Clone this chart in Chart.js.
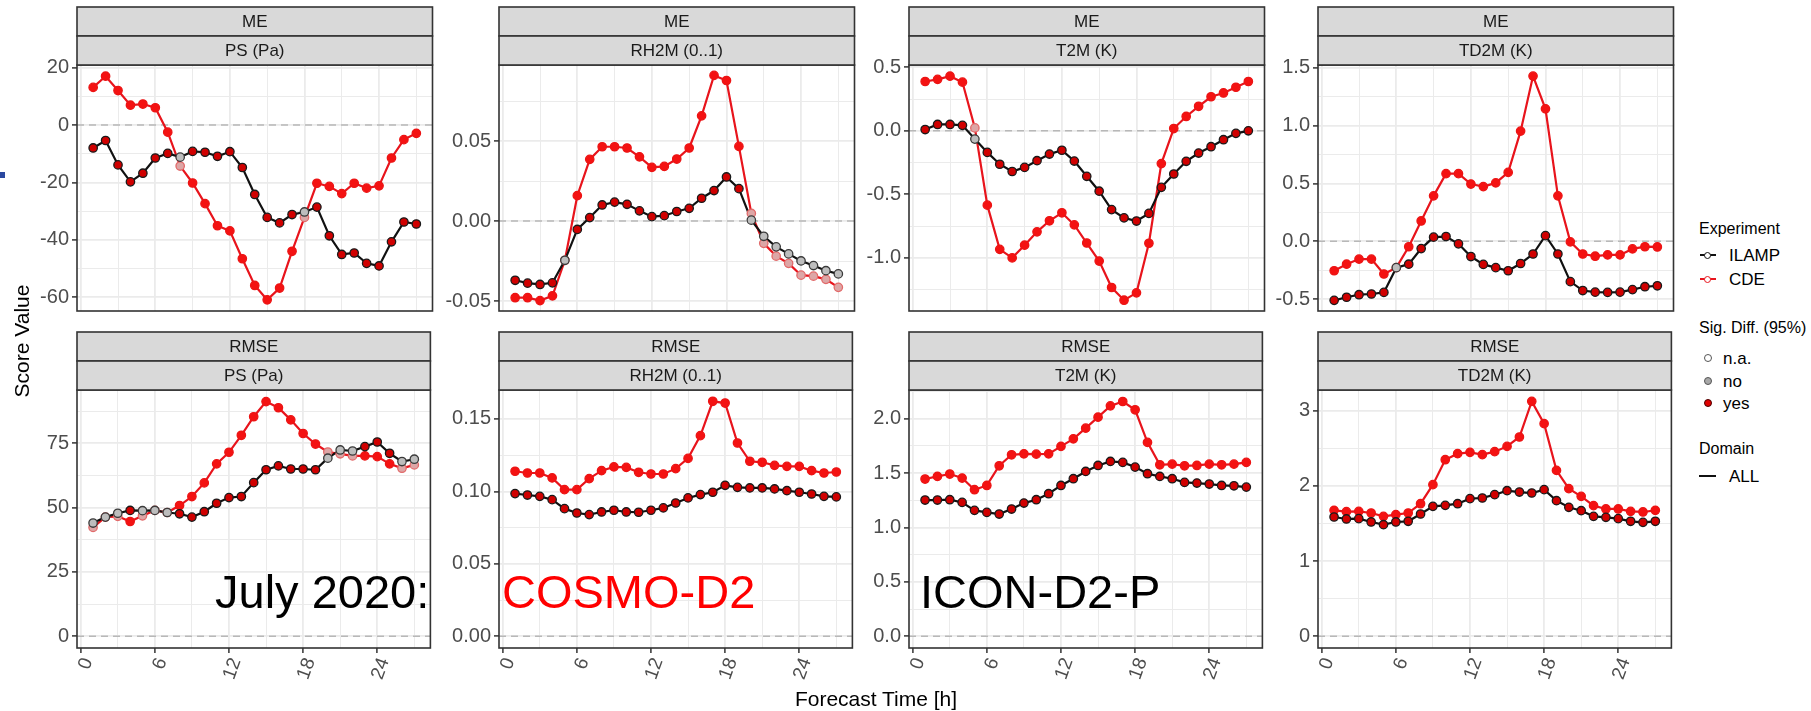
<!DOCTYPE html>
<html><head><meta charset="utf-8">
<script src="https://cdn.jsdelivr.net/npm/chart.js@4.4.0/dist/chart.umd.min.js"></script>
<style>
html,body{margin:0;padding:0;background:#fff;}
body{width:1811px;height:711px;overflow:hidden;position:relative;font-family:"Liberation Sans",Arial,Helvetica,sans-serif;}
canvas{position:absolute;}
.t{position:absolute;white-space:nowrap;line-height:1;}
.lg{position:absolute;white-space:nowrap;line-height:1;transform:translateY(-50%);color:#000;}
.ln{position:absolute;height:2px;}
.dot{position:absolute;border-radius:50%;box-sizing:border-box;}
</style></head><body>
<script>
// ---------- data ----------
const hours = [1,2,3,4,5,6,7,8,9,10,11,12,13,14,15,16,17,18,19,20,21,22,23,24,25,26,27];
const xMajorTicks = [0,6,12,18,24];

const psME_ILAMP = [-8.0,-5.4,-13.9,-19.8,-16.8,-11.5,-9.9,-11.2,-9.2,-9.5,-10.9,-9.3,-14.8,-24.2,-32.2,-34.1,-31.2,-30.3,-28.6,-38.6,-45.1,-44.6,-48.2,-49.1,-40.7,-33.8,-34.5];
const psME_CDE   = [13.1,17.0,12.0,6.9,7.3,6.0,-2.5,-14.3,-20.2,-27.4,-35.1,-36.9,-46.6,-55.9,-60.9,-56.8,-44.0,-32.2,-20.3,-21.4,-23.9,-20.3,-22.0,-21.2,-11.5,-5.1,-2.9];
const psME_sigNo = [8,18];
const psME_ticks = [-60,-40,-20,0,20];

const rhME_ILAMP = [-0.0370,-0.0388,-0.0396,-0.0386,-0.0245,-0.0052,0.0022,0.0101,0.0119,0.0105,0.0064,0.0028,0.0034,0.0060,0.0080,0.0143,0.0191,0.0276,0.0203,0.0006,-0.0095,-0.0161,-0.0205,-0.0249,-0.0278,-0.0310,-0.0330];
const rhME_CDE   = [-0.0479,-0.0479,-0.0497,-0.0467,-0.0245,0.0159,0.0386,0.0465,0.0465,0.0457,0.0402,0.0336,0.0342,0.0388,0.0457,0.0658,0.0911,0.0879,0.0467,0.0048,-0.0139,-0.0219,-0.0264,-0.0338,-0.0344,-0.0364,-0.0414];
const rhME_sigNo = [5,20,21,22,23,24,25,26,27];
const rhME_ticks = [-0.05,0.00,0.05];

const t2ME_ILAMP = [0.01,0.05,0.05,0.043,-0.065,-0.17,-0.263,-0.32,-0.288,-0.235,-0.183,-0.153,-0.238,-0.358,-0.475,-0.62,-0.685,-0.71,-0.65,-0.445,-0.34,-0.24,-0.175,-0.125,-0.07,-0.02,0.0];
const t2ME_CDE   = [0.388,0.405,0.43,0.383,0.023,-0.585,-0.933,-1.0,-0.9,-0.795,-0.708,-0.645,-0.74,-0.883,-1.025,-1.233,-1.333,-1.275,-0.885,-0.258,0.018,0.113,0.193,0.268,0.298,0.343,0.388];
const t2ME_sigNo = [5];
const t2ME_ticks = [-1.0,-0.5,0.0,0.5];

const td2ME_ILAMP = [-0.511,-0.484,-0.462,-0.456,-0.442,-0.228,-0.198,-0.063,0.036,0.041,-0.022,-0.132,-0.2,-0.228,-0.255,-0.192,-0.11,0.049,-0.11,-0.349,-0.426,-0.44,-0.442,-0.44,-0.418,-0.393,-0.385];
const td2ME_CDE   = [-0.255,-0.198,-0.154,-0.154,-0.283,-0.228,-0.047,0.176,0.393,0.585,0.585,0.495,0.473,0.505,0.596,0.953,1.429,1.146,0.393,-0.005,-0.11,-0.129,-0.118,-0.118,-0.066,-0.047,-0.049];
const td2ME_sigNo = [6];
const td2ME_ticks = [-0.5,0.0,0.5,1.0,1.5];

const psRM_ILAMP = [44.0,46.3,47.8,48.9,48.8,48.9,48.1,47.6,46.3,48.4,51.7,53.9,54.3,59.7,64.7,66.2,65.0,65.0,64.7,69.2,72.4,72.0,73.7,75.5,71.1,67.9,68.8];
const psRM_CDE   = [42.3,46.3,46.6,44.6,46.8,48.9,48.1,50.8,54.3,59.6,67.0,71.5,78.1,85.3,91.2,88.8,84.1,78.8,74.7,71.6,70.9,70.1,70.1,69.8,67.0,65.3,66.6];
const psRM_sigNo = [1,2,3,5,6,7,20,21,22,26,27];
const psRM_ticks = [0,25,50,75];

const rhRM_ILAMP = [0.0985,0.0975,0.0966,0.0943,0.0881,0.0851,0.0840,0.0858,0.0870,0.0858,0.0856,0.0870,0.0886,0.0920,0.0955,0.0978,0.0994,0.1042,0.1028,0.1024,0.1024,0.1017,0.1005,0.0994,0.0982,0.0966,0.0962];
const rhRM_CDE   = [0.1139,0.1127,0.1127,0.1093,0.1012,0.1012,0.1088,0.1143,0.1169,0.1166,0.1132,0.1120,0.1120,0.1157,0.1228,0.1385,0.1622,0.1610,0.1334,0.1208,0.1201,0.1180,0.1173,0.1173,0.1143,0.1127,0.1134];
const rhRM_sigNo = [];
const rhRM_ticks = [0.00,0.05,0.10,0.15];

const t2RM_ILAMP = [1.253,1.253,1.256,1.231,1.158,1.139,1.124,1.170,1.225,1.256,1.311,1.387,1.449,1.516,1.571,1.608,1.599,1.556,1.495,1.470,1.449,1.415,1.409,1.400,1.387,1.384,1.372];
const t2RM_CDE   = [1.446,1.470,1.492,1.455,1.348,1.387,1.568,1.669,1.678,1.675,1.678,1.746,1.816,1.914,2.015,2.119,2.159,2.083,1.783,1.577,1.583,1.568,1.571,1.583,1.577,1.583,1.599];
const t2RM_sigNo = [];
const t2RM_ticks = [0.0,0.5,1.0,1.5,2.0];

const td2RM_ILAMP = [1.586,1.560,1.564,1.520,1.484,1.520,1.529,1.626,1.728,1.741,1.763,1.830,1.839,1.883,1.936,1.918,1.905,1.950,1.803,1.715,1.670,1.595,1.582,1.564,1.529,1.515,1.529];
const td2RM_CDE   = [1.675,1.657,1.661,1.639,1.595,1.617,1.639,1.763,2.016,2.348,2.428,2.446,2.415,2.455,2.525,2.650,3.124,2.827,2.206,1.963,1.861,1.737,1.693,1.693,1.661,1.653,1.675];
const td2RM_sigNo = [];
const td2RM_ticks = [0,1,2,3];

// ---------- panels ----------
const FONT = '"Liberation Sans", Arial, Helvetica, sans-serif';
const panels = [
  {row:0,col:0,stat:'ME',  v:'PS (Pa)',     il:psME_ILAMP, cd:psME_CDE, sig:psME_sigNo, yt:psME_ticks, lim:[-64.8,20.9],   dec:0},
  {row:0,col:1,stat:'ME',  v:'RH2M (0..1)', il:rhME_ILAMP, cd:rhME_CDE, sig:rhME_sigNo, yt:rhME_ticks, lim:[-0.0562,0.0976],dec:2},
  {row:0,col:2,stat:'ME',  v:'T2M (K)',     il:t2ME_ILAMP, cd:t2ME_CDE, sig:t2ME_sigNo, yt:t2ME_ticks, lim:[-1.418,0.518],  dec:1},
  {row:0,col:3,stat:'ME',  v:'TD2M (K)',    il:td2ME_ILAMP,cd:td2ME_CDE,sig:td2ME_sigNo,yt:td2ME_ticks,lim:[-0.603,1.525],  dec:1},
  {row:1,col:0,stat:'RMSE',v:'PS (Pa)',     il:psRM_ILAMP, cd:psRM_CDE, sig:psRM_sigNo, yt:psRM_ticks, lim:[-4.56,95.7],    dec:0},
  {row:1,col:1,stat:'RMSE',v:'RH2M (0..1)', il:rhRM_ILAMP, cd:rhRM_CDE, sig:rhRM_sigNo, yt:rhRM_ticks, lim:[-0.0081,0.1700],dec:2},
  {row:1,col:2,stat:'RMSE',v:'T2M (K)',     il:t2RM_ILAMP, cd:t2RM_CDE, sig:t2RM_sigNo, yt:t2RM_ticks, lim:[-0.108,2.265],  dec:1},
  {row:1,col:3,stat:'RMSE',v:'TD2M (K)',    il:td2RM_ILAMP,cd:td2RM_CDE,sig:td2RM_sigNo,yt:td2RM_ticks,lim:[-0.156,3.275],  dec:0}
];

const colL = [77,499,909,1318], PW = 357;
const plotTop = [65,390], plotBot = [323,648];
const AXW = 70, PADT = 62, PADR = 4, XH = 45;
const XMIN = -0.3, XMAX = 28.3;

const decoPlugin = {
  id:'deco',
  beforeDatasetsDraw(chart){
    const {ctx, chartArea:a, scales:{y}} = chart;
    const py = y.getPixelForValue(0);
    ctx.save();
    ctx.strokeStyle='#b8b8b8'; ctx.lineWidth=1.5; ctx.setLineDash([7,5]);
    ctx.beginPath(); ctx.moveTo(a.left,py); ctx.lineTo(a.right,py); ctx.stroke();
    ctx.restore();
  },
  afterDraw(chart, args, opts){
    const {ctx, chartArea:a} = chart;
    ctx.save();
    ctx.strokeStyle='#333'; ctx.lineWidth=1.6;
    ctx.strokeRect(a.left, a.top, a.right-a.left, a.bottom-a.top);
    const labs=[opts.stat, opts.v];
    for(let i=0;i<2;i++){
      const t=a.top-58+i*29;
      ctx.fillStyle='#d9d9d9'; ctx.fillRect(a.left,t,a.right-a.left,29);
      ctx.strokeRect(a.left,t,a.right-a.left,29);
      ctx.fillStyle='#1a1a1a'; ctx.font='17px '+FONT;
      ctx.textAlign='center'; ctx.textBaseline='middle';
      ctx.fillText(labs[i],(a.left+a.right)/2,t+15);
    }
    ctx.restore();
  }
};

function withMinors(majors, lo, hi){
  const step = majors[1]-majors[0];
  const out=[];
  for(let k=-2;k<=majors.length*2+2;k++){
    const v = majors[0] + (k*step)/2;
    if(v>lo && v<hi) out.push({value:+v.toFixed(6), mj: (k%2===0)});
  }
  return out;
}

const ptColors = {
  il:{yes:['#d00000','#1a1a1a'], no:['#bdbdbd','#3a3a3a']},
  cd:{yes:['#f41212','#ec1414'], no:['#dda6a6','#e26a6a']}
};

panels.forEach((p)=>{
  const cv = document.createElement('canvas');
  const top = plotTop[p.row]-PADT;
  const w = AXW+PW+PADR;
  const h = plotBot[p.row]-top + (p.row===1?XH:3);
  cv.width=w; cv.height=h;
  cv.style.left=(colL[p.col]-AXW)+'px'; cv.style.top=top+'px';
  cv.style.width=w+'px'; cv.style.height=h+'px';
  document.body.appendChild(cv);

  const mk = (vals)=>hours.map((hh,i)=>({x:hh,y:vals[i]}));
  const fills = (key)=>hours.map(hh=>ptColors[key][p.sig.includes(hh)?'no':'yes'][0]);
  const strokes = (key)=>hours.map(hh=>ptColors[key][p.sig.includes(hh)?'no':'yes'][1]);
  const bottomRow = p.row===1;

  new Chart(cv,{
    type:'line',
    data:{datasets:[
      {data:mk(p.cd), borderColor:'#e8141c', borderWidth:2.2, pointRadius:0, order:4},
      {data:mk(p.il), borderColor:'#111111', borderWidth:2.2, pointRadius:0, order:3},
      {data:mk(p.cd), showLine:false, pointRadius:4.2, pointBorderWidth:1.3,
        pointBackgroundColor:fills('cd'), pointBorderColor:strokes('cd'), order:2},
      {data:mk(p.il), showLine:false, pointRadius:4.2, pointBorderWidth:1.3,
        pointBackgroundColor:fills('il'), pointBorderColor:strokes('il'), order:1}
    ]},
    options:{
      responsive:false, animation:false, devicePixelRatio:1,
      layout:{padding:{top:PADT,right:PADR,bottom:bottomRow?0:3,left:0}},
      plugins:{legend:{display:false}, tooltip:{enabled:false}, deco:{stat:p.stat, v:p.v}},
      events:[],
      scales:{
        x:{type:'linear', min:XMIN, max:XMAX,
          afterBuildTicks(s){ s.ticks = withMinors(xMajorTicks, XMIN, XMAX); },
          afterFit(s){ s.height = bottomRow?XH:0; },
          border:{display:false},
          grid:{
            color:c=>'#ebebeb',
            lineWidth:c=>(c.tick&&c.tick.mj)?1.8:1,
            drawTicks:bottomRow, tickLength:5, tickWidth:1.5,
            tickColor:c=>(c.tick&&c.tick.mj)?'#333':'rgba(0,0,0,0)'
          },
          ticks:{display:bottomRow, minRotation:70, maxRotation:70, autoSkip:false,
            padding:2, labelOffset:7, color:'#4d4d4d', font:{family:FONT,size:19},
            callback:(v,i,t)=> (t[i]&&t[i].mj)? String(v) : ''}
        },
        y:{type:'linear', min:p.lim[0], max:p.lim[1],
          afterBuildTicks(s){ s.ticks = withMinors(p.yt, p.lim[0], p.lim[1]); },
          afterFit(s){ s.width = AXW; },
          border:{display:false},
          grid:{
            color:c=>'#ebebeb',
            lineWidth:c=>(c.tick&&c.tick.mj)?1.8:1,
            tickLength:5, tickWidth:1.5,
            tickColor:c=>(c.tick&&c.tick.mj)?'#333':'rgba(0,0,0,0)'
          },
          ticks:{autoSkip:false, padding:3, color:'#4d4d4d', font:{family:FONT,size:20},
            callback:(v,i,t)=> (t[i]&&t[i].mj)? Number(v).toFixed(p.dec) : ''}
        }
      }
    },
    plugins:[decoPlugin]
  });
});
</script>

<!-- axis titles -->
<div class="t" style="left:21px;top:341px;font-size:21px;color:#000;transform:translate(-50%,-50%) rotate(-90deg);">Score Value</div>
<div class="t" style="left:876px;top:698px;font-size:21px;color:#000;transform:translate(-50%,-50%);">Forecast Time [h]</div>

<!-- overlay annotations -->
<div class="t" style="left:215px;top:568px;font-size:47px;color:#000;">July 2020:</div>
<div class="t" style="left:502px;top:568px;font-size:47px;color:#ff0000;">COSMO-D2</div>
<div class="t" style="left:920px;top:568px;font-size:47px;color:#000;">ICON-D2-P</div>

<!-- small slide mark -->
<div style="position:absolute;left:0;top:172px;width:5px;height:6px;background:#2a48a0;"></div>

<!-- legend -->
<div class="lg" style="left:1699px;top:229px;font-size:16px;">Experiment</div>
<div class="ln" style="left:1700px;top:254px;width:16px;background:#111;"></div>
<div class="dot" style="left:1704px;top:251.5px;width:7px;height:7px;border:1.3px solid #111;background:#fff;"></div>
<div class="lg" style="left:1729px;top:255px;font-size:17px;">ILAMP</div>
<div class="ln" style="left:1700px;top:278px;width:16px;background:#e8141c;"></div>
<div class="dot" style="left:1704px;top:275.5px;width:7px;height:7px;border:1.3px solid #e8141c;background:#fff;"></div>
<div class="lg" style="left:1729px;top:279px;font-size:17px;">CDE</div>

<div class="lg" style="left:1699px;top:328px;font-size:16px;">Sig. Diff. (95%)</div>
<div class="dot" style="left:1704px;top:354px;width:8px;height:8px;border:1.3px solid #555;background:#fff;"></div>
<div class="lg" style="left:1723px;top:358px;font-size:17px;">n.a.</div>
<div class="dot" style="left:1704px;top:377px;width:8px;height:8px;border:1.3px solid #555;background:#a8a8a8;"></div>
<div class="lg" style="left:1723px;top:381px;font-size:17px;">no</div>
<div class="dot" style="left:1704px;top:399px;width:8px;height:8px;border:1.3px solid #4a0000;background:#e00000;"></div>
<div class="lg" style="left:1723px;top:403px;font-size:17px;">yes</div>

<div class="lg" style="left:1699px;top:449px;font-size:16px;">Domain</div>
<div class="ln" style="left:1699px;top:474.5px;width:17px;height:2.5px;background:#111;"></div>
<div class="lg" style="left:1729px;top:476px;font-size:17px;">ALL</div>
</body></html>
